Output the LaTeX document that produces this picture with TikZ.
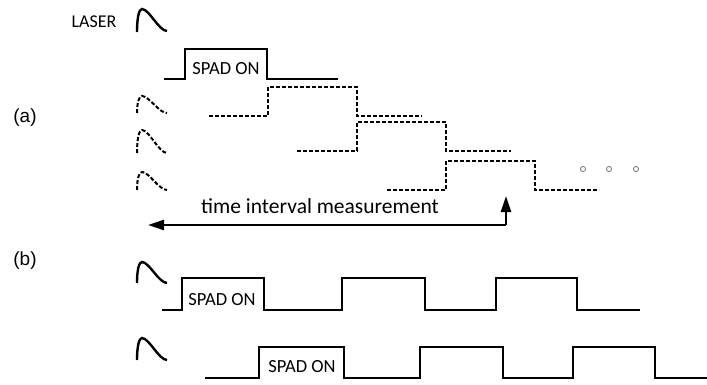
\documentclass[tikz,border=0pt]{standalone}
\usepackage{fontspec}
\setmainfont{Carlito}
\newfontfamily\arialfont{Liberation Sans}
\usetikzlibrary{arrows.meta}

\begin{document}
\begin{tikzpicture}[x=1pt,y=-1pt,
    wave/.style={line width=2.4pt,line join=miter},
    dwave/.style={line width=2pt,dash pattern=on 4pt off 2pt},
    lbl/.style={anchor=base,inner sep=0pt,font=\fontsize{18.5}{22}\selectfont},
    part/.style={anchor=base,inner sep=0pt,font=\arialfont\fontsize{19}{22}\selectfont},
    tip/.style={-{Triangle[length=16pt,width=10pt]},line width=2.4pt}]
  \useasboundingbox (0,0) rectangle (707,384);

  % labels
  \node[part] (pa) at (25,122) {(a)};
  \node[part] (pb) at (25,265) {(b)};
  \node[lbl,font=\fontsize{18}{21}\selectfont] (laser) at (94,27) {LASER};

  % (a) laser pulse and gate
  \draw[wave] (137,32) .. controls +(0,-14) and +(-3,0) .. ++(5,-23)
     .. controls +(7,0) and +(-8,0) .. ++(25,22);
  \draw[wave] (164,79) -| (185,49) -| (267,79) -- (338,79);
  \node[lbl] (on1) at (226,74) {SPAD ON};

  % (a) later pulses
  \draw[dwave] (137,113) .. controls +(0,-10) and +(-3,0) .. ++(5,-17)
     .. controls +(7,0) and +(-8,0) .. ++(25,17);
  \draw[dwave] (137,153) .. controls +(0,-14) and +(-3,0) .. ++(5,-23)
     .. controls +(7,0) and +(-8,0) .. ++(25,23);
  \draw[dwave] (137,190) .. controls +(0,-11) and +(-3,0) .. ++(5,-18)
     .. controls +(7,0) and +(-8,0) .. ++(25,18);
  \draw[dwave] (209,116) -| (268,87) -| (357,116) -- (422,116);
  \draw[dwave] (297,151) -| (357,122) -| (446,151) -- (511,151);
  \draw[dwave] (387,190) -| (446,161) -| (535,190) -- (599,190);
  \foreach \x in {583,609,636}
    \draw[gray,line width=0.9pt] (\x,169) circle[radius=2.6pt];

  % measurement
  \coordinate (tl) at (148,225);
  \coordinate (tr) at (506,225);
  \coordinate (tup) at (506,196);
  \draw[tip,{Triangle[length=16pt,width=10pt]}-] (tl) -- (tr);
  \draw[tip] (tr) -- (tup);
  \node[lbl,font=\fontsize{21.5}{25}\selectfont] (tim) at (320,213) {time interval measurement};

  % (b) two laser pulses and gates
  \draw[wave] (137,283) .. controls +(0,-13) and +(-3,0) .. ++(5,-21)
     .. controls +(7,0) and +(-8,0) .. ++(25,21);
  \draw[wave] (162,310) -| (182,278) -| (264,310) -| (342,278) -| (425,310)
     -| (496,278) -| (577,310) -- (640,310);
  \node[lbl] (on2) at (222,305) {SPAD ON};

  \draw[wave] (137,360) .. controls +(0,-13) and +(-3,0) .. ++(5,-22)
     .. controls +(7,0) and +(-8,0) .. ++(25,22);
  \draw[wave] (205,378) -| (259,347) -| (344,378) -| (420,347) -| (503,378)
     -| (573,347) -| (655,378) -- (707,378);
  \node[lbl] (on3) at (302,372) {SPAD ON};
\end{tikzpicture}
\end{document}
